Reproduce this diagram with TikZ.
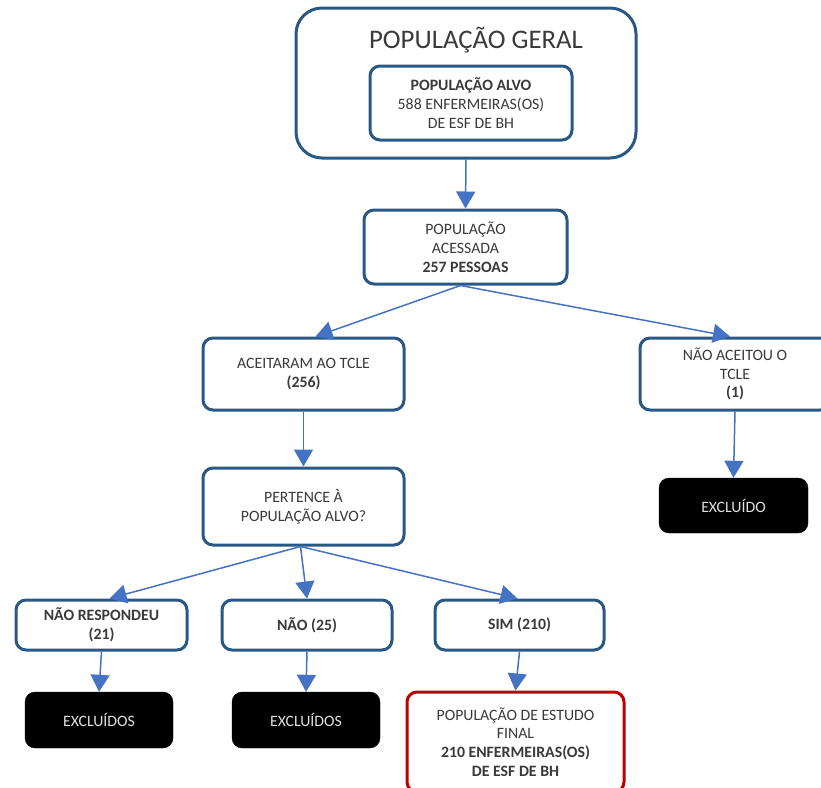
\documentclass[tikz,border=0pt]{standalone}
\usepackage{fontspec}
\setmainfont{Carlito}
\usetikzlibrary{positioning}
\usetikzlibrary{arrows.meta}
\usetikzlibrary{calc}

\definecolor{caixaazul}{HTML}{2A5885}
\definecolor{setaazul}{HTML}{4472C4}
\definecolor{caixavermelha}{HTML}{C00000}
\definecolor{textocinza}{HTML}{3A3A3A}

\tikzset{
  caixa/.style={draw=caixaazul, line width=3pt, rounded corners=10pt, fill=white,
    align=center, text=textocinza, font=\fontsize{15.8}{18.8}\selectfont, inner sep=0pt},
  excluir/.style={draw=black, fill=black, rounded corners=10pt, align=center,
    text=white!88!black, font=\fontsize{15.8}{18.8}\selectfont, inner sep=0pt,
    minimum width=148pt, minimum height=56pt},
  seta/.style={draw=setaazul, line width=1.5pt, -{Triangle[length=17pt,width=19pt]}}
}

\begin{document}
\begin{tikzpicture}[x=1pt,y=-1pt]
                \useasboundingbox (0,0) rectangle (821,787);
                % Define the boxes
                \node[caixa, rounded corners=26pt, minimum width=340pt, minimum height=150pt] (geral) at (466,83) {};
                \node[text=textocinza, font=\fontsize{26.8}{30}\selectfont] (titulo) at (476,40) {POPULAÇÃO GERAL};
                \node[caixa, minimum width=202pt, minimum height=74pt] (alvo) at (471,103)
                    {\textbf{POPULAÇÃO ALVO}\\588 ENFERMEIRAS(OS)\\DE ESF DE BH};
                \node[caixa, minimum width=203pt, minimum height=74pt] (acessada) at (465.5,247)
                    {POPULAÇÃO\\ACESSADA\\\textbf{257 PESSOAS}};
                \node[caixa, minimum width=201pt, minimum height=72pt] (aceitaram) at (303.5,374)
                    {ACEITARAM AO TCLE\\\textbf{(256)}};
                \node[caixa, minimum width=190pt, minimum height=72pt] (naoaceitou) at (735,374)
                    {NÃO ACEITOU O\\TCLE\\\textbf{(1)}};
                \node[excluir, minimum width=149pt, minimum height=55pt] (excluido) at (733.5,505.5) {EXCLUÍDO};
                \node[caixa, minimum width=201pt, minimum height=77pt] (pertence) at (303.5,506.5)
                    {PERTENCE À\\POPULAÇÃO ALVO?};
                \node[caixa, minimum width=171pt, minimum height=50pt] (naoresp) at (101.5,625)
                    {\textbf{NÃO RESPONDEU}\\\textbf{(21)}};
                \node[caixa, minimum width=170pt, minimum height=50pt] (nao) at (307,625) {\textbf{NÃO (25)}};
                \node[caixa, minimum width=169pt, minimum height=50pt] (sim) at (519.5,625) {\textbf{SIM (210)}};
                \node[excluir] (excluidos1) at (99,720) {EXCLUÍDOS};
                \node[excluir] (excluidos2) at (306,720) {EXCLUÍDOS};
                \node[caixa, draw=caixavermelha, minimum width=217pt, minimum height=100pt] (final) at (515.5,742)
                    {POPULAÇÃO DE ESTUDO\\FINAL\\\textbf{210 ENFERMEIRAS(OS)}\\\textbf{DE ESF DE BH}};

                % Draw the arrows
                \draw[seta] (geral.south) -- (acessada.north);
                \draw[seta] ([xshift=-5pt]acessada.south) -- ([xshift=12pt]aceitaram.north);
                \draw[seta] ([xshift=-5pt]acessada.south) -- ([xshift=-5pt]naoaceitou.north);
                \draw[seta] (aceitaram.south) -- (pertence.north);
                \draw[seta] (naoaceitou.south) -- (excluido.north);
                \draw[seta] ([xshift=-3pt]pertence.south) -- ([xshift=8pt]naoresp.north);
                \draw[seta] ([xshift=-3pt]pertence.south) -- (nao.north);
                \draw[seta] ([xshift=-3pt]pertence.south) -- ([xshift=-2pt]sim.north);
                \draw[seta] (naoresp.south) -- (excluidos1.north);
                \draw[seta] (nao.south) -- (excluidos2.north);
                \draw[seta] (sim.south) -- (final.north);
            \end{tikzpicture}
\end{document}
